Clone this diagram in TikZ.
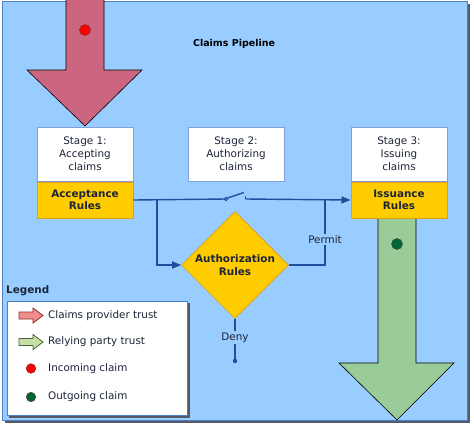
\documentclass[tikz,border=0pt]{standalone}
\usepackage{fontspec}
\setmainfont{DejaVu Sans}
\usetikzlibrary{positioning}
\usetikzlibrary{shapes.geometric,arrows.meta}

\definecolor{bgblue}{HTML}{99CCFF}
\definecolor{frameedge}{HTML}{4D7EC8}
\definecolor{shadowgray}{HTML}{555A66}
\definecolor{stageedge}{HTML}{7FA0D8}
\definecolor{ruleyellow}{HTML}{FFCC00}
\definecolor{ruleedge}{HTML}{E0A010}
\definecolor{flowblue}{HTML}{1F4E9F}
\definecolor{inktext}{HTML}{1C2438}
\definecolor{providerred}{HTML}{CC6680}
\definecolor{relyinggreen}{HTML}{99CC99}
\definecolor{legendred}{HTML}{F28C8C}
\definecolor{legendredge}{HTML}{8B2E2E}
\definecolor{legendgreen}{HTML}{C5E0A5}
\definecolor{legendgreenedge}{HTML}{4F5F2F}
\definecolor{incomingred}{HTML}{FF0000}
\definecolor{outgoinggreen}{HTML}{006633}

\begin{document}
\begin{tikzpicture}[x=1pt, y=-1pt,
font=\fontsize{10.4}{13}\selectfont, text=inktext,
stagenode/.style={rectangle, draw=stageedge, fill=white, line width=1pt, minimum width=96pt, minimum height=54pt, align=center},
rulenode/.style={rectangle, draw=ruleedge, fill=ruleyellow, line width=1pt, minimum width=96pt, minimum height=36pt, align=center, font=\fontsize{10.4}{12.5}\selectfont\bfseries},
authnode/.style={diamond, draw=ruleedge, fill=ruleyellow, line width=0.6pt, minimum width=107pt, minimum height=107pt, inner sep=0pt, align=center, font=\fontsize{10.4}{12.5}\selectfont\bfseries},
flow/.style={draw=flowblue, line width=1.4pt},
tip/.style={-{Triangle[length=9pt,width=7pt]}},
bigarrow/.style={draw=black, line width=0.6pt},
legicon/.style={line width=0.8pt, line join=miter},
dotnode/.style={circle, line width=0.6pt, minimum size=9.5pt, inner sep=0pt},
legtext/.style={anchor=west, inner sep=0pt},
]
%Frame
\useasboundingbox (0,0) rectangle (474,426);
\fill[shadowgray] (5,4) rectangle (470,423);
\draw[frameedge, fill=bgblue, line width=1pt] (2,1) rectangle (467,420);

%Trust arrows
\draw[bigarrow, fill=providerred] (66,0) -- (66,70) -- (27,70) -- (85,126) -- (142,70) -- (104,70) -- (104,0);
\draw[bigarrow, fill=relyinggreen] (378,217) -- (378,363) -- (339,363) -- (397,420) -- (454,363) -- (416,363) -- (416,217);
\node[dotnode, fill=incomingred, draw=legendredge, minimum width=10pt, minimum height=11pt] (indot) at (85,30) {};
\node[dotnode, fill=outgoinggreen, draw=black!70, minimum width=10pt, minimum height=11pt] (outdot) at (397,244) {};

%Nodes
\node[font=\fontsize{9.5}{11}\selectfont\bfseries, text=black] (title) at (234,44) {Claims Pipeline};
\node[stagenode] (stage1) at (85,154) {Stage 1:\\Accepting\\claims};
\node[rulenode]  (rules1) [below=0pt of stage1] {Acceptance\\Rules};
\node[stagenode] (stage2) [right=54pt of stage1] {Stage 2:\\Authorizing\\claims};
\node[stagenode] (stage3) [right=66pt of stage2] {Stage 3:\\Issuing\\claims};
\node[rulenode]  (rules3) [below=0pt of stage3] {Issuance\\Rules};
\node[authnode]  (auth) at (235,265) {Authorization\\Rules};

\coordinate (swL) at (226,199);
\coordinate (swR) at (245.5,199);
\coordinate (brL) at (157,199);
\coordinate (brR) at (325,199);
\coordinate (denyend) at (235,361);

%Lines
\draw[flow] (rules1.east) -- (swL);
\draw[flow, fill=bgblue, line width=1pt] (swL) circle[radius=1.6];
\draw[flow] (swL) ++(1.5,-1) -- ++(16.5,-5.5);
\draw[flow] (swR) -- ++(0,-3);
\draw[flow, tip] (swR) -- (rules3.west);
\draw[flow, tip] (brL) |- (auth.west);
\draw[flow] (auth.east) -| (brR) node[pos=0.69, fill=bgblue, inner sep=1.5pt] {Permit};
\draw[flow] (auth.south) -- (denyend) node[pos=0.45, fill=bgblue, inner sep=1.5pt] {Deny};
\fill[flowblue] (denyend) circle[radius=2.2];

%Legend
\node[font=\fontsize{10.4}{13}\selectfont\bfseries, legtext] (legendtitle) at (6,291) {Legend};
\fill[shadowgray] (9,303) rectangle (190,418);
\node[draw=frameedge, fill=white, line width=1pt, minimum width=180pt, minimum height=114pt, anchor=north west] (legendbox) at (7,301) {};
\coordinate (providericon) at (19,315.5);
\coordinate (relyingicon) at (19,342);
\draw[legicon, fill=legendred, draw=legendredge] (providericon) ++(0,-3.5) -- ++(14,0) -- ++(0,-4) -- ++(10,7.5) -- ++(-10,7.5) -- ++(0,-4) -- ++(-14,0) -- cycle;
\node[legtext] (providertext) at (48,315.5) {Claims provider trust};
\draw[legicon, fill=legendgreen, draw=legendgreenedge] (relyingicon) ++(0,-3.5) -- ++(14,0) -- ++(0,-4) -- ++(10,7.5) -- ++(-10,7.5) -- ++(0,-4) -- ++(-14,0) -- cycle;
\node[legtext] (relyingtext) at (48,342) {Relying party trust};
\node[dotnode, fill=incomingred, draw=legendredge] (incomingicon) at (31,368.5) {};
\node[legtext] (incomingtext) at (48,368.5) {Incoming claim};
\node[dotnode, fill=outgoinggreen, draw=black!70] (outgoingicon) at (31,397) {};
\node[legtext] (outgoingtext) at (48,397) {Outgoing claim};
\end{tikzpicture}
\end{document}
